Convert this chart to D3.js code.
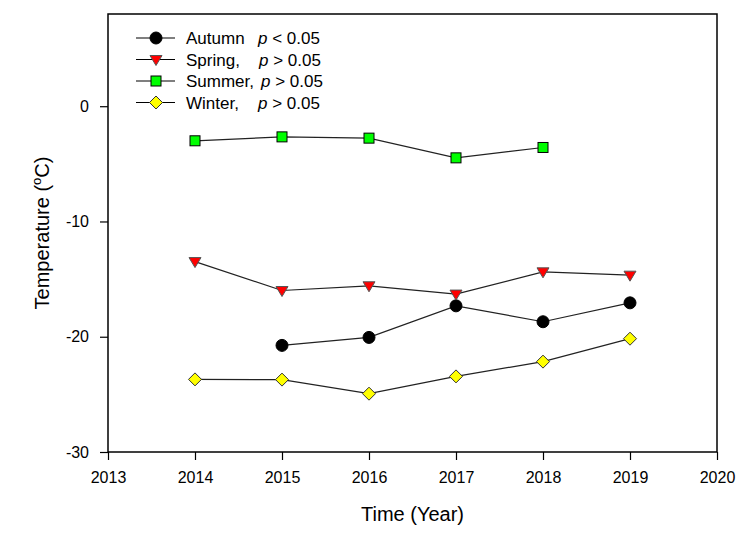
<!DOCTYPE html>
<html>
<head>
<meta charset="utf-8">
<script src="https://cdn.jsdelivr.net/npm/d3@7"></script>
<style>
  body { margin: 0; background: #fff; }
  text { font-family: "Liberation Sans", Arial, sans-serif; }
</style>
</head>
<body>
<div id="chart"></div>
<script>
// データ
var years = [2014, 2015, 2016, 2017, 2018, 2019];
var autumn = [null, -20.75, -20.06, -17.32, -18.70, -17.06];
var spring = [-13.48, -15.99, -15.58, -16.30, -14.37, -14.66];
var summer = [-3.00, -2.66, -2.77, -4.48, -3.58, null];
var winter = [-23.70, -23.72, -24.94, -23.44, -22.16, -20.17];
var xTicks = [2013, 2014, 2015, 2016, 2017, 2018, 2019, 2020];
var yTicks = [0, -10, -20, -30];

var width = 753;
var height = 536;
var margin = {top: 14, right: 36, bottom: 84, left: 108};

var series = [
  {name: 'Autumn', label: 'Autumn', values: autumn, shape: 'circle', fill: '#000', pX: 258},
  {name: 'Spring', label: 'Spring,', values: spring, shape: 'triangle', fill: '#ff0000', pX: 259},
  {name: 'Summer', label: 'Summer,', values: summer, shape: 'square', fill: '#00ff00', pX: 261},
  {name: 'Winter', label: 'Winter,', values: winter, shape: 'diamond', fill: '#ffff00', pX: 258}
];
var pTexts = [' < 0.05', ' > 0.05', ' > 0.05', ' > 0.05'];

var svg = d3.select('#chart').append('svg')
  .attr('width', width).attr('height', height);

var x = d3.scaleLinear().domain([2013, 2020]).range([margin.left, width - margin.right]);
var y = d3.scaleLinear().domain([-30, 8]).range([height - margin.bottom, margin.top]);

// マーカー
function drawMarker(g, shape, fill) {
  if (shape === 'circle') {
    g.append('circle').attr('r', 6).attr('fill', fill).attr('stroke', '#000');
  } else if (shape === 'triangle') {
    g.append('path').attr('d', 'M-6,-4L6,-4L0,6Z').attr('fill', fill)
      .attr('stroke', '#555').attr('stroke-width', 1);
  } else if (shape === 'square') {
    g.append('rect').attr('x', -5).attr('y', -5).attr('width', 10).attr('height', 10)
      .attr('fill', fill).attr('stroke', '#000');
  } else {
    g.append('path').attr('d', 'M0,-6.5L6.5,0L0,6.5L-6.5,0Z').attr('fill', fill)
      .attr('stroke', '#333');
  }
}

// 軸
var fmt = function(d) { return String(d); };
var xAxis = svg.append('g')
  .attr('transform', 'translate(0,' + (height - margin.bottom) + ')')
  .call(d3.axisBottom(x).tickValues(xTicks).tickFormat(fmt).tickSizeOuter(0).tickSize(8).tickPadding(12));
var yAxis = svg.append('g')
  .attr('transform', 'translate(' + margin.left + ',0)')
  .call(d3.axisLeft(y).tickValues(yTicks).tickFormat(fmt).tickSizeOuter(0).tickSize(8).tickPadding(11));
[xAxis, yAxis].forEach(function(a) {
  a.attr('font-size', null).attr('font-family', null);
  a.select('.domain').remove();
  a.selectAll('.tick line').attr('stroke-width', 1.2);
  a.selectAll('.tick text').attr('fill', '#000').style('font-size', '16px');
});

// 枠
svg.append('rect')
  .attr('x', margin.left).attr('y', margin.top)
  .attr('width', width - margin.left - margin.right)
  .attr('height', height - margin.top - margin.bottom)
  .attr('fill', 'none').attr('stroke', '#000').attr('stroke-width', 1.5);

// 折れ線
var line = d3.line()
  .defined(function(d) { return d.v !== null; })
  .x(function(d) { return x(d.year); })
  .y(function(d) { return y(d.v); });

series.forEach(function(s) {
  var pts = years.map(function(yr, i) { return {year: yr, v: s.values[i]}; });
  svg.append('path').datum(pts)
    .attr('d', line).attr('fill', 'none').attr('stroke', '#222').attr('stroke-width', 1.2);
  pts.filter(function(d) { return d.v !== null; }).forEach(function(d) {
    var g = svg.append('g').attr('transform', 'translate(' + x(d.year) + ',' + y(d.v) + ')');
    drawMarker(g, s.shape, s.fill);
  });
});

// 凡例
series.forEach(function(s, i) {
  var cy = 38 + i * 21.5;
  var lg = svg.append('g');
  lg.append('line').attr('x1', 136).attr('x2', 175).attr('y1', cy).attr('y2', cy)
    .attr('stroke', '#000').attr('stroke-width', 1.2);
  var mg = lg.append('g').attr('transform', 'translate(156,' + cy + ')');
  drawMarker(mg, s.shape, s.fill);
  lg.append('text').attr('x', 186).attr('y', cy + 6).attr('font-size', 17).text(s.label);
  var t = lg.append('text').attr('x', s.pX).attr('y', cy + 6).attr('font-size', 17);
  t.append('tspan').attr('font-style', 'italic').text('p');
  t.append('tspan').text(pTexts[i]);
});

// 軸タイトル
svg.append('text')
  .attr('x', (margin.left + width - margin.right) / 2).attr('y', 521)
  .attr('text-anchor', 'middle').attr('font-size', 20).text('Time (Year)');

var yt = svg.append('text')
  .attr('transform', 'translate(49,' + ((margin.top + height - margin.bottom) / 2) + ') rotate(-90)')
  .attr('text-anchor', 'middle').attr('font-size', 20);
yt.append('tspan').text('Temperature (');
yt.append('tspan').attr('font-size', 13).attr('dy', -8).text('o');
yt.append('tspan').attr('dy', 8).text('C)');
</script>
</body>
</html>
